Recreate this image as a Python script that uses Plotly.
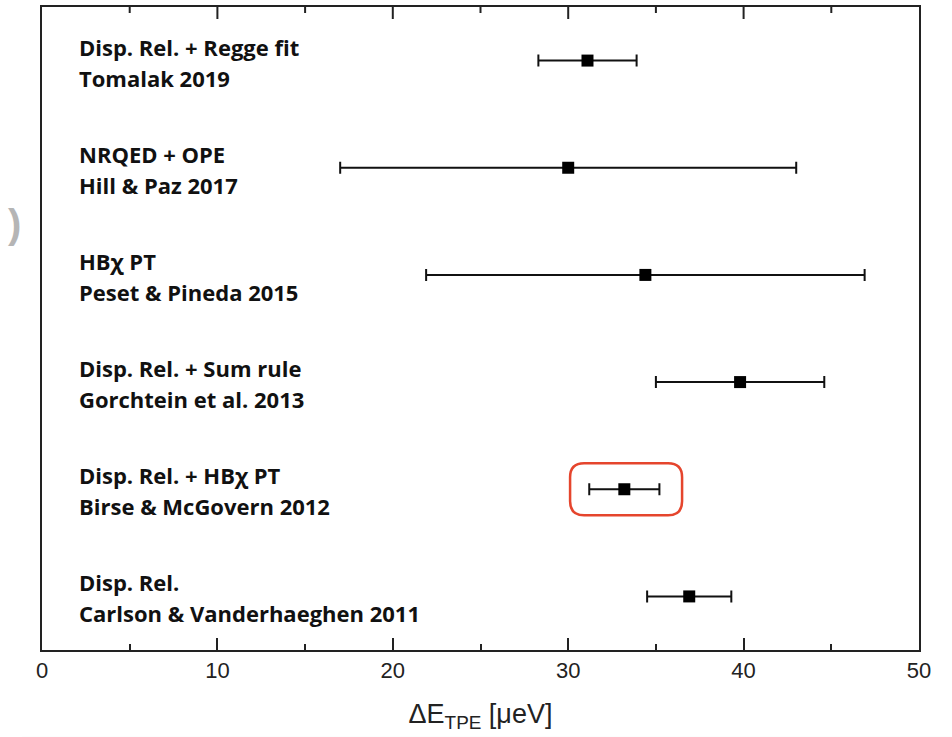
import plotly.graph_objects as go

# ---- data (top to bottom) ----
methods = ["Disp. Rel. + Regge fit", "NRQED + OPE", "HB\u03c7 PT",
           "Disp. Rel. + Sum rule", "Disp. Rel. + HB\u03c7 PT", "Disp. Rel."]
authors = ["Tomalak 2019", "Hill & Paz 2017", "Peset & Pineda 2015",
           "Gorchtein et al. 2013", "Birse & McGovern 2012",
           "Carlson & Vanderhaeghen 2011"]
values = [31.1, 30.0, 34.4, 39.8, 33.2, 36.9]
errors = [2.8, 13.0, 12.5, 4.8, 2.0, 2.4]
x_ticks = [0, 10, 20, 30, 40, 50]
x_minor = [5, 15, 25, 35, 45]
highlight = "Birse & McGovern 2012"

n = len(values)
rows = [n - i for i in range(n)]

W, H = 952, 737
M = dict(l=42, r=33, t=7, b=87)
plot_h = H - M["t"] - M["b"]

fig = go.Figure()
fig.add_trace(go.Scatter(
    x=values, y=rows, mode="markers",
    marker=dict(symbol="square", size=12, color="black"),
    error_x=dict(type="data", array=errors, visible=True,
                 color="#111111", thickness=2, width=6),
    showlegend=False, hoverinfo="skip",
))

label_font = dict(family="Open Sans", size=22, color="#111111", weight=700)
for m, a, y in zip(methods, authors, rows):
    fig.add_annotation(x=2, y=y, xref="x", yref="y", text="<b>%s</b>" % m,
                       showarrow=False, xanchor="left", yanchor="middle",
                       yshift=14, font=label_font)
    fig.add_annotation(x=2, y=y, xref="x", yref="y", text="<b>%s</b>" % a,
                       showarrow=False, xanchor="left", yanchor="middle",
                       yshift=-17, font=label_font)

# highlight box around the selected result (rounded rectangle, pixel sized)
hi = authors.index(highlight)
w, h, r = 56, 26, 14
path = ("M {a},{b} L {c},{b} Q {w},{b} {w},{d} L {w},{e} Q {w},{h} {c},{h} "
        "L {a},{h} Q {mw},{h} {mw},{e} L {mw},{d} Q {mw},{b} {a},{b} Z").format(
    a=-w + r, b=-h, c=w - r, d=-h + r, e=h - r, w=w, h=h, mw=-w)
fig.add_shape(type="path", xref="x", yref="y", xsizemode="pixel",
              ysizemode="pixel", xanchor=values[hi] + 0.1, yanchor=rows[hi],
              path=path, line=dict(color="#e5452d", width=2.5))

# inward ticks along the top frame (mirroring the bottom axis ticks)
for tv, ln in [(t, 12) for t in x_ticks[1:-1]] + [(t, 6) for t in x_minor]:
    fig.add_shape(type="line", xref="x", yref="paper",
                  x0=tv, x1=tv, y0=1.0, y1=1.0 - ln / plot_h,
                  line=dict(color="#222222", width=2), layer="above")

# faint screenshot artefacts
fig.add_shape(type="rect", xref="paper", yref="paper", x0=-0.023, x1=1.04,
              y0=-0.152, y1=-0.135, fillcolor="#f6f6f6", line_width=0,
              layer="below")
fig.add_shape(type="rect", xref="paper", yref="paper", x0=-0.023, x1=1.04,
              y0=-0.2, y1=-0.152, fillcolor="#efefef", line_width=0,
              layer="below")
fig.add_annotation(xref="paper", yref="paper", x=-0.022, y=0.662,
                   text="<b>)</b>", showarrow=False, xanchor="right",
                   font=dict(family="Liberation Sans", size=40, color="#b5b5b5"))

fig.update_layout(
    xaxis=dict(range=[0, 50], tickvals=x_ticks, showline=True, linewidth=2,
               linecolor="#222222", mirror=True, zeroline=False,
               showgrid=False, ticks="inside", ticklen=12, tickwidth=2,
               tickcolor="#222222",
               minor=dict(tickvals=x_minor, ticks="inside", ticklen=6,
                          tickwidth=2, tickcolor="#222222"),
               tickfont=dict(family="Liberation Sans", size=22,
                             color="#222222"),
               title=dict(text="\u0394E<sub>TPE</sub> [\u03bceV]", standoff=22,
                          font=dict(family="Liberation Sans", size=27,
                                    color="#222222"))),
    yaxis=dict(range=[0.5, n + 0.5], showticklabels=False, ticks="",
               showline=True, linewidth=2, linecolor="#222222", mirror=True,
               zeroline=False, showgrid=False),
    width=W, height=H, plot_bgcolor="white", paper_bgcolor="white",
    margin=dict(**M, autoexpand=False),
)

fig.write_html("out.html", config={"displayModeBar": False},
               post_script="document.body.style.margin='0';")
